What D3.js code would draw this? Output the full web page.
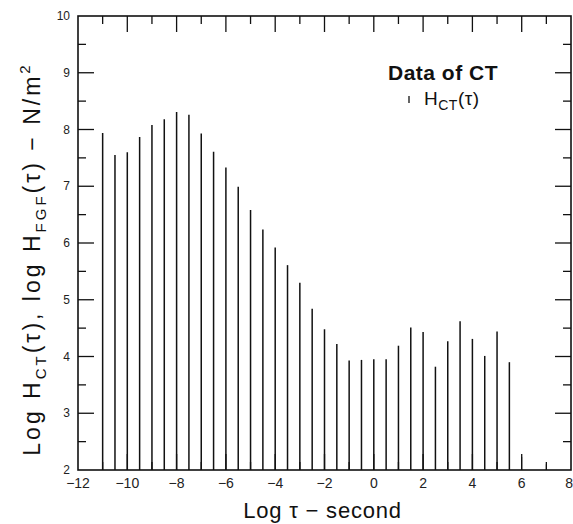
<!DOCTYPE html>
<html>
<head>
<meta charset="utf-8">
<script src="https://cdnjs.cloudflare.com/ajax/libs/d3/7.8.5/d3.min.js"></script>
<style>
  body { margin: 0; background: #fff; }
  svg { display: block; font-family: "Liberation Sans", Arial, sans-serif; }
  .tick-label { fill: #222; }
</style>
</head>
<body>
<svg width="573" height="524"></svg>
<script>
// Data of CT: log tau (s) and log H_CT(tau) (N/m^2)
var logTau = [-11, -10.5, -10, -9.5, -9, -8.5, -8, -7.5, -7, -6.5, -6, -5.5, -5, -4.5, -4, -3.5, -3, -2.5,
              -2, -1.5, -1, -0.5, 0, 0.5, 1, 1.5, 2, 2.5, 3, 3.5, 4, 4.5, 5, 5.5, 6, 7];
var logH = [7.94, 7.55, 7.6, 7.87, 8.08, 8.18, 8.31, 8.26, 7.93, 7.61, 7.33, 6.99, 6.58, 6.24, 5.92, 5.61, 5.3, 4.84,
            4.48, 4.22, 3.93, 3.94, 3.95, 3.95, 4.19, 4.51, 4.43, 3.82, 4.27, 4.62, 4.31, 4.01, 4.44, 3.9, 2.23, 2.1];
var xTicks = [-12, -10, -8, -6, -4, -2, 0, 2, 4, 6, 8];
var yTicks = [2, 3, 4, 5, 6, 7, 8, 9, 10];

// The svg
var svg = d3.select("svg");
var pLeft = 78, pRight = 571, pTop = 16, pBottom = 470;

// Scales
var x = d3.scaleLinear().domain([-12, 8]).range([pLeft, pRight]);
var y = d3.scaleLinear().domain([2, 10]).range([pBottom, pTop]);

// Frame
svg.append("rect")
    .attr("x", pLeft).attr("y", pTop)
    .attr("width", pRight - pLeft).attr("height", pBottom - pTop)
    .attr("fill", "none").attr("stroke", "#111").attr("stroke-width", 1.6);

// Inward ticks on all four sides, long at labelled values, short in between
var xMinor = d3.range(-11, 8, 2);
var yMinor = d3.range(2.5, 10, 1);
var ticks = svg.append("g").attr("stroke", "#111").attr("stroke-width", 1.3);

function hTicks(vals, len) {
  ticks.selectAll(null).data(vals).enter().append("line")
      .attr("x1", pLeft).attr("x2", pLeft + len)
      .attr("y1", function(d) { return y(d); }).attr("y2", function(d) { return y(d); });
  ticks.selectAll(null).data(vals).enter().append("line")
      .attr("x1", pRight).attr("x2", pRight - len)
      .attr("y1", function(d) { return y(d); }).attr("y2", function(d) { return y(d); });
}
function vTicks(vals, len) {
  ticks.selectAll(null).data(vals).enter().append("line")
      .attr("y1", pTop).attr("y2", pTop + len)
      .attr("x1", function(d) { return x(d); }).attr("x2", function(d) { return x(d); });
  ticks.selectAll(null).data(vals).enter().append("line")
      .attr("y1", pBottom).attr("y2", pBottom - len)
      .attr("x1", function(d) { return x(d); }).attr("x2", function(d) { return x(d); });
}
hTicks(yTicks.slice(1, -1), 16);
hTicks(yMinor, 8);
vTicks(xTicks.slice(1, -1), 16);
vTicks(xMinor, 8);

// Tick labels
svg.append("g").selectAll("text")
    .data(yTicks).enter().append("text")
    .attr("class", "tick-label")
    .attr("x", pLeft - 8)
    .attr("y", function(d) { return y(d) + 4; })
    .attr("text-anchor", "end")
    .attr("font-size", 12)
    .text(function(d) { return d; });

svg.append("g").selectAll("text")
    .data(xTicks).enter().append("text")
    .attr("class", "tick-label")
    .attr("x", function(d) { return d === 8 ? 573 : x(d); })
    .attr("y", pBottom + 18)
    .attr("text-anchor", function(d) { return d === 8 ? "end" : "middle"; })
    .attr("font-size", 14)
    .text(function(d) { return d < 0 ? "\u2212" + Math.abs(d) : d; });

// Spikes
svg.append("g").selectAll("line")
    .data(logTau).enter().append("line")
    .attr("x1", function(d) { return x(d); })
    .attr("x2", function(d) { return x(d); })
    .attr("y1", y(2))
    .attr("y2", function(d, i) { return y(logH[i]); })
    .attr("stroke", "#111")
    .attr("stroke-width", function(d) { return d < 6 ? 1.5 : 1; });

// Axis titles
svg.append("text")
    .attr("x", (pLeft + pRight) / 2 - 2)
    .attr("y", 518)
    .attr("text-anchor", "middle")
    .attr("font-size", 22)
    .attr("letter-spacing", 0.8)
    .attr("fill", "#111")
    .text("Log \u03c4 \u2212 second");

var yt = svg.append("text")
    .attr("transform", "translate(40,259) rotate(-90)")
    .attr("text-anchor", "middle")
    .attr("font-size", 23)
    .attr("letter-spacing", 3)
    .attr("fill", "#111");
yt.append("tspan").text("Log H");
yt.append("tspan").attr("font-size", 15).attr("dy", 6).text("CT");
yt.append("tspan").attr("dy", -6).text("(\u03c4), log H");
yt.append("tspan").attr("font-size", 15).attr("dy", 6).text("FGF");
yt.append("tspan").attr("dy", -6).text("(\u03c4) \u2212 N/m");
yt.append("tspan").attr("font-size", 15).attr("dy", -10).text("2");

// Legend
svg.append("text")
    .attr("x", 443).attr("y", 80)
    .attr("text-anchor", "middle")
    .attr("font-size", 21).attr("font-weight", "bold")
    .attr("letter-spacing", 0.5)
    .attr("fill", "#111")
    .text("Data of CT");
svg.append("line")
    .attr("x1", 409).attr("x2", 409)
    .attr("y1", 96).attr("y2", 103)
    .attr("stroke", "#111").attr("stroke-width", 1.3);
var lg = svg.append("text")
    .attr("x", 424).attr("y", 105)
    .attr("font-size", 19)
    .attr("letter-spacing", 0.5)
    .attr("fill", "#111");
lg.append("tspan").text("H");
lg.append("tspan").attr("font-size", 14).attr("dy", 5).text("CT");
lg.append("tspan").attr("dy", -5).text("(\u03c4)");
</script>
</body>
</html>
